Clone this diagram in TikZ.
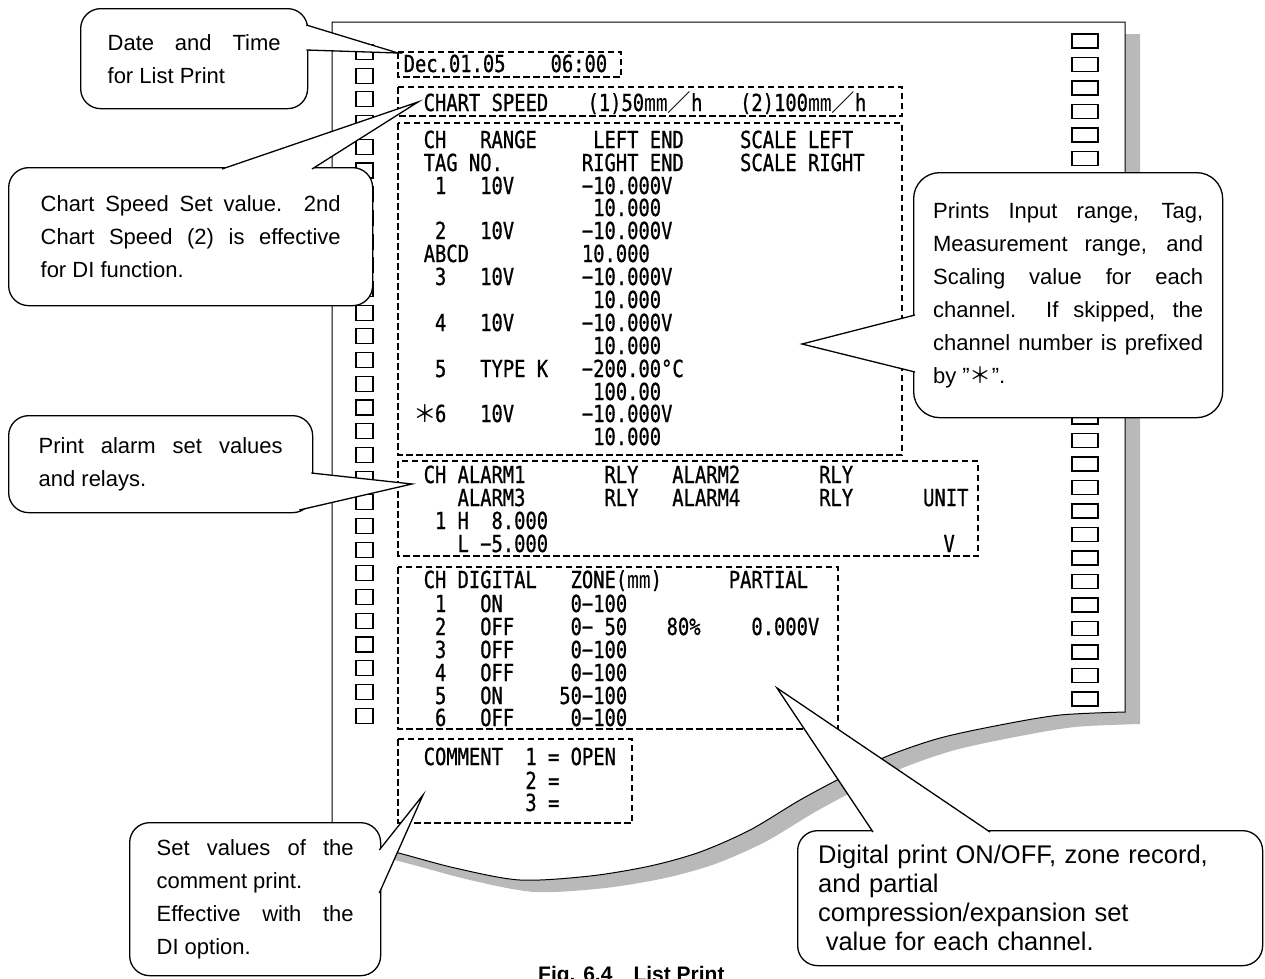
\documentclass[tikz,border=0pt]{standalone}
\usepackage{fontspec}
\setmainfont{Liberation Sans}
\newfontfamily\prtfont[FakeStretch=0.8, FakeBold=0.8]{DejaVu Sans Mono}
\newfontfamily\cjkfont{Noto Sans CJK JP}
\usetikzlibrary{positioning,calc}

% printer column pitch
\newlength\pitch
\setlength\pitch{11.3pt}
\newcommand\pc[2]{\makebox[0pt][l]{\hspace*{#1\pitch}#2}}
\newcommand\mmu{{\cjkfont ㎜}}
\newcommand\slsh{{\cjkfont ／}}
\newcommand\prtstar{{\cjkfont ＊}}
% speech bubble wedge: base, tip, base
\newcommand\calltail[3]{%
  \fill[white] (#1) -- (#2) -- (#3) -- cycle;
  \draw[tailline] (#1) -- (#2) -- (#3);}

\begin{document}
\begin{tikzpicture}[x=1pt, y=-1pt,
  prt/.style={font=\prtfont\fontsize{23.5}{23}\selectfont, inner sep=0pt, anchor=base west},
  dbox/.style={draw, dash pattern=on 6.5pt off 3.5pt, line width=1.3pt},
  hole/.style={draw, line width=1.1pt, fill=white},
  callout/.style={draw, fill=white, line width=1.3pt, rounded corners=20pt,
    anchor=north west, align=justify, inner ysep=0pt,
    font=\fontsize{22}{33}\selectfont},
  tailline/.style={line width=1.3pt}]

\useasboundingbox (0,0) rectangle (1265,978);
\fill[white] (0,0) rectangle (1265,978);

% chart paper and its shadow
\begin{scope}[shift={(15,12)}]
  \fill[gray!55] (332,22) -- (1125,22) -- (1125,712) -- plot[smooth] coordinates {(1125,712) (1060,715) (1000,725) (940,738) (890,755) (845,776) (800,800) (750,830) (700,852) (650,866) (590,876) (520,880) (455,868) (395,852) (332,836)} -- cycle;
\end{scope}
\filldraw[fill=white, line width=1pt] (332,22) -- (1125,22) -- (1125,712) -- plot[smooth] coordinates {(1125,712) (1060,715) (1000,725) (940,738) (890,755) (845,776) (800,800) (750,830) (700,852) (650,866) (590,876) (520,880) (455,868) (395,852) (332,836)} -- cycle;

% sprocket holes
\foreach \k in {0,...,28} {
  \draw[hole] (356,{52+23.7*\k-7.5}) rectangle ++(17,15);
  \draw[hole] (1072,{41+23.5*\k-7}) rectangle ++(26,14);
}

% printed blocks
\draw[dbox] (398,52) rectangle (621,77);
\draw[dbox] (398,87) rectangle (902,116);
\draw[dbox] (398,123) rectangle (902,455);
\draw[dbox] (398,461) rectangle (978,556);
\draw[dbox] (398,567) rectangle (838,729);
\draw[dbox] (398,739) rectangle (632,823);

\node[prt] (date) at (403,72) {\pc{0}{Dec.01.05}\pc{13}{06:00}};
\node[prt] (speed) at (423,111) {\pc{0}{CHART SPEED}\pc{14.5}{(1)50\mmu\slsh h}\pc{28}{(2)100\mmu\slsh h}};

\node[prt] (rng0) at (423,148) {\pc{0}{CH}\pc{5}{RANGE}\pc{15}{LEFT END}\pc{28}{SCALE LEFT}};
\node[prt] (rng1) at (423,171) {\pc{0}{TAG NO.}\pc{14}{RIGHT END}\pc{28}{SCALE RIGHT}};
\node[prt] (rng2) at (423,194) {\pc{1}{1}\pc{5}{10V}\pc{14}{−10.000V}};
\node[prt] (rng3) at (423,216) {\pc{15}{10.000}};
\node[prt] (rng4) at (423,239) {\pc{1}{2}\pc{5}{10V}\pc{14}{−10.000V}};
\node[prt] (rng5) at (423,262) {\pc{0}{ABCD}\pc{14}{10.000}};
\node[prt] (rng6) at (423,285) {\pc{1}{3}\pc{5}{10V}\pc{14}{−10.000V}};
\node[prt] (rng7) at (423,308) {\pc{15}{10.000}};
\node[prt] (rng8) at (423,331) {\pc{1}{4}\pc{5}{10V}\pc{14}{−10.000V}};
\node[prt] (rng9) at (423,354) {\pc{15}{10.000}};
\node[prt] (rng10) at (423,377) {\pc{1}{5}\pc{5}{TYPE K}\pc{14}{−200.00°C}};
\node[prt] (rng11) at (423,400) {\pc{15}{100.00}};
\node[prt] (rng12) at (423,422) {\pc{-0.9}{\prtstar}\pc{1}{6}\pc{5}{10V}\pc{14}{−10.000V}};
\node[prt] (rng13) at (423,445) {\pc{15}{10.000}};

\node[prt] (alm0) at (423,483) {\pc{0}{CH}\pc{3}{ALARM1}\pc{16}{RLY}\pc{22}{ALARM2}\pc{35}{RLY}};
\node[prt] (alm1) at (423,506) {\pc{3}{ALARM3}\pc{16}{RLY}\pc{22}{ALARM4}\pc{35}{RLY}\pc{44.2}{UNIT}};
\node[prt] (alm2) at (423,529) {\pc{1}{1}\pc{3}{H}\pc{6}{8.000}};
\node[prt] (alm3) at (423,552) {\pc{3}{L}\pc{5}{−5.000}\pc{46}{V}};

\node[prt] (dig0) at (423,588) {\pc{0}{CH}\pc{3}{DIGITAL}\pc{13}{ZONE(\mmu)}\pc{27}{PARTIAL}};
\node[prt] (dig1) at (423,612) {\pc{1}{1}\pc{5}{ON}\pc{13}{0−100}};
\node[prt] (dig2) at (423,635) {\pc{1}{2}\pc{5}{OFF}\pc{13}{0− 50}\pc{21.5}{80\%}\pc{29}{0.000V}};
\node[prt] (dig3) at (423,658) {\pc{1}{3}\pc{5}{OFF}\pc{13}{0−100}};
\node[prt] (dig4) at (423,681) {\pc{1}{4}\pc{5}{OFF}\pc{13}{0−100}};
\node[prt] (dig5) at (423,704) {\pc{1}{5}\pc{5}{ON}\pc{12}{50−100}};
\node[prt] (dig6) at (423,726) {\pc{1}{6}\pc{5}{OFF}\pc{13}{0−100}};

\node[prt] (cmt0) at (423,765) {\pc{0}{COMMENT}\pc{9}{1 = OPEN}};
\node[prt] (cmt1) at (423,789) {\pc{9}{2 =}};
\node[prt] (cmt2) at (423,811) {\pc{9}{3 =}};

% callouts
\node[callout, minimum width=227pt, minimum height=100pt, text width=173pt, inner xsep=27pt] (cdate) at (80,8) {Date and Time\linebreak for List Print};
\coordinate (tdate) at (398,53);
\calltail{[shift={(-2pt,-17pt)}]cdate.north east}{tdate}{[shift={(-2pt,-42pt)}]cdate.north east}

\node[callout, minimum width=364pt, minimum height=138pt, text width=300pt, inner xsep=32pt] (cspeed) at (8,167) {Chart Speed Set value.\ \ 2nd\linebreak Chart Speed (2) is effective\linebreak for DI function.};
\coordinate (tspeed) at (418,102);
\calltail{[shift={(214pt,-2pt)}]cspeed.north west}{tspeed}{[shift={(304pt,-2pt)}]cspeed.north west}

\node[callout, minimum width=304pt, minimum height=97pt, text width=244pt, inner xsep=30pt] (calarm) at (8,415) {Print alarm set values\linebreak and relays.};
\coordinate (talarm) at (412,484);
\calltail{[shift={(-2pt,-58pt)}]calarm.north east}{talarm}{[shift={(-14pt,-95pt)}]calarm.north east}

\node[callout, rounded corners=26pt, minimum width=309pt, minimum height=245pt, text width=270pt, inner xsep=19.5pt] (cright) at (913,172) {Prints Input range, Tag,\linebreak Measurement range, and\linebreak Scaling value for each\linebreak channel.\ \ If skipped, the\linebreak channel number is prefixed\linebreak by "{\cjkfont ＊}".};
\coordinate (tright) at (802,344);
\calltail{[shift={(2pt,-143pt)}]cright.north west}{tright}{[shift={(2pt,-200pt)}]cright.north west}

\node[callout, minimum width=251pt, minimum height=153pt, text width=197pt, inner xsep=27pt] (ccomment) at (129,822) {Set values of the\linebreak comment print.\\ Effective with the\linebreak DI option.};
\coordinate (tcomment) at (423,795);
\calltail{[shift={(-2pt,-28pt)}]ccomment.north east}{tcomment}{[shift={(-2pt,-71pt)}]ccomment.north east}

\node[callout, align=left, font=\fontsize{25.5}{29}\selectfont, minimum width=465pt, minimum height=135pt, text width=424pt, inner xsep=20.5pt] (cdigital) at (797,830) {Digital print ON/OFF, zone record,\\ and partial\\ compression/expansion set\\ \hspace*{0.3em}value for each channel.};
\coordinate (tdigital) at (777,688);
\calltail{[shift={(76pt,-2pt)}]cdigital.north west}{tdigital}{[shift={(193pt,-2pt)}]cdigital.north west}

% caption, cut by the page edge
\node[font=\bfseries\fontsize{21}{26}\selectfont, anchor=base west, inner sep=0pt] (fig) at (538,981) {Fig. 6.4\quad List Print};
\end{tikzpicture}
\end{document}
